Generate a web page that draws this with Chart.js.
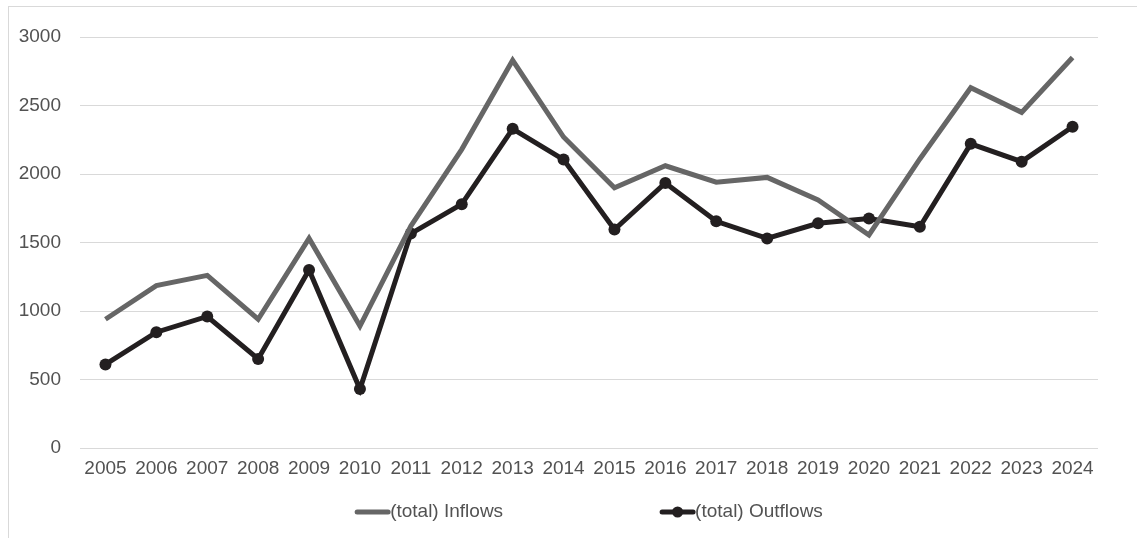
<!DOCTYPE html>
<html>
<head>
<meta charset="utf-8">
<script src="https://cdn.jsdelivr.net/npm/chart.js@4"></script>
<style>
  html, body { margin: 0; padding: 0; background: #fff; }
  #wrap { position: relative; width: 1137px; height: 538px; }
</style>
</head>
<body>
<div id="wrap"><canvas id="myChart"></canvas></div>
<script>
// 資料
var years = ['2005', '2006', '2007', '2008', '2009', '2010', '2011', '2012', '2013', '2014',
             '2015', '2016', '2017', '2018', '2019', '2020', '2021', '2022', '2023', '2024'];
var inflows = [940, 1185, 1260, 940, 1530, 890, 1620, 2180, 2830, 2270,
               1900, 2060, 1940, 1975, 1810, 1555, 2110, 2630, 2450, 2850];
var outflows = [610, 845, 960, 650, 1300, 430, 1565, 1780, 2330, 2105,
                1595, 1935, 1655, 1530, 1640, 1675, 1615, 2220, 2090, 2345];
var yTicks = [0, 500, 1000, 1500, 2000, 2500, 3000];

var FONT = '"Liberation Sans", Arial, sans-serif';
var TEXT = '#525252';

// 外框
var frame = {
    id: 'frame',
    beforeDraw: function (chart) {
        var c = chart.ctx;
        c.save();
        c.strokeStyle = '#d9d9d9';
        c.lineWidth = 1;
        c.strokeRect(8.5, 6.5, 1200, 600);
        c.restore();
    }
};

// 自訂圖例
var legendBox = {
    id: 'legendBox',
    afterDraw: function (chart) {
        var c = chart.ctx;
        var area = chart.chartArea;
        var items = chart.data.datasets;
        c.save();
        c.font = '19px ' + FONT;
        c.textBaseline = 'middle';
        var lineLen = 35, gap = 157, y = 512;
        var widths = items.map(function (d) { return lineLen + c.measureText(d.label).width; });
        var total = widths.reduce(function (a, b) { return a + b; }, 0) + gap * (items.length - 1);
        var x = (area.left + area.right) / 2 - total / 2;
        items.forEach(function (d, i) {
            c.strokeStyle = d.borderColor;
            c.lineWidth = 5;
            c.lineCap = 'round';
            c.beginPath();
            c.moveTo(x + 2, y);
            c.lineTo(x + lineLen - 2, y);
            c.stroke();
            if (d.pointRadius > 0) {
                c.fillStyle = d.borderColor;
                c.beginPath();
                c.arc(x + lineLen / 2, y, 5.5, 0, Math.PI * 2);
                c.fill();
            }
            c.fillStyle = TEXT;
            c.textAlign = 'left';
            c.fillText(d.label, x + lineLen, y);
            x += widths[i] + gap;
        });
        c.restore();
    }
};

var ctx = document.getElementById('myChart').getContext('2d');
var myChart = new Chart(ctx, {
    type: 'line',
    data: {
        labels: years,
        datasets: [
            {
                label: '(total) Inflows',
                data: inflows,
                borderColor: '#666666',
                borderWidth: 5,
                pointRadius: 0,
                tension: 0,
                fill: false
            },
            {
                label: '(total) Outflows',
                data: outflows,
                borderColor: '#231f20',
                backgroundColor: '#231f20',
                borderWidth: 5,
                pointRadius: 6,
                pointBorderWidth: 0,
                tension: 0,
                fill: false
            }
        ]
    },
    options: {
        responsive: true,
        maintainAspectRatio: false,
        animation: false,
        layout: { padding: { left: 0, top: 37, right: 39, bottom: 56 } },
        scales: {
            x: {
                offset: true,
                grid: { display: false, drawTicks: false },
                border: { display: false },
                ticks: {
                    color: TEXT,
                    font: { family: FONT, size: 19 },
                    padding: 9,
                    maxRotation: 0,
                    autoSkip: false
                },
                afterFit: function (s) { s.height = 34; }
            },
            y: {
                min: 0,
                max: 3000,
                afterBuildTicks: function (s) {
                    s.ticks = yTicks.map(function (v) { return { value: v }; });
                },
                grid: { color: '#d9d9d9', lineWidth: 1, drawTicks: false },
                border: { display: false },
                ticks: {
                    color: TEXT,
                    font: { family: FONT, size: 19 },
                    padding: 19,
                    callback: function (v) { return String(v); }
                },
                afterFit: function (s) { s.width = 80; }
            }
        },
        plugins: {
            legend: { display: false },
            tooltip: { enabled: false }
        }
    },
    plugins: [frame, legendBox]
});
</script>
</body>
</html>
